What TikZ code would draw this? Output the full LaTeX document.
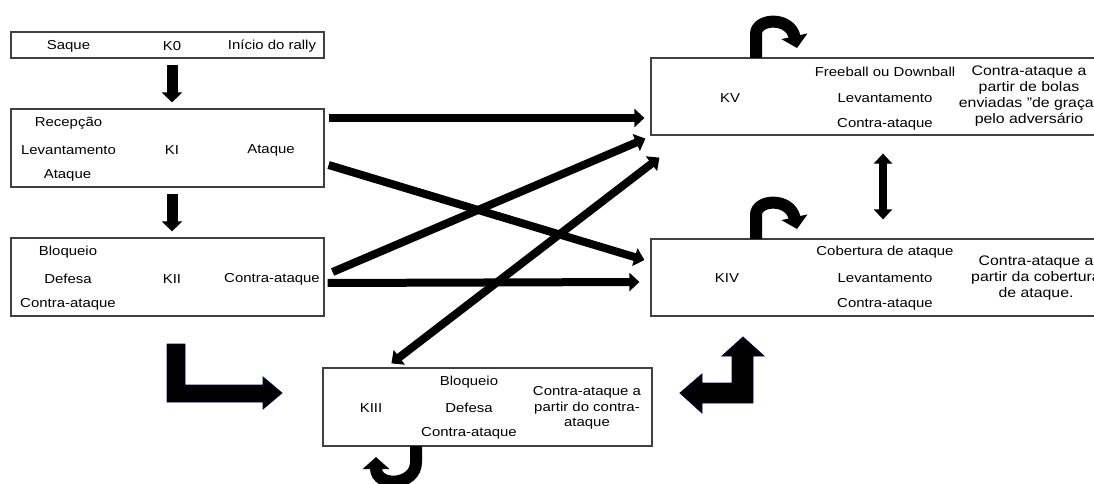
\documentclass[tikz,border=0pt]{standalone}
\usepackage{fontspec}
\setmainfont{Liberation Sans}[FakeStretch=1.15]
\usetikzlibrary{arrows.meta}

\tikzset{
  phase/.style={draw=black!75, line width=1.2pt, minimum height=78pt, inner sep=0pt},
  txt/.style={font=\fontsize{13}{15.8}\selectfont, inner sep=0pt, align=center},
  note/.style={txt, font=\fontsize{13.8}{15.8}\selectfont},
  conn/.style={line width=8pt, -{Triangle[length=10pt,width=18pt]}},
  both/.style={line width=8pt, {Triangle[length=10pt,width=18pt]}-{Triangle[length=10pt,width=18pt]}},
  down/.style={line width=11pt, -{Triangle[length=10pt,width=20pt]}},
  hook/.style={line width=12pt, -{Triangle[length=12pt,width=26pt]}},
  block/.style={fill=black, draw=blue!30!black, line width=0.8pt, line join=miter}
}

\begin{document}
\begin{tikzpicture}[x=1pt,y=-1pt]
\clip (0,0) rectangle (1094,484);

% phase boxes
\node[phase, minimum width=313pt, minimum height=26pt] (k0) at (167.5,45) {};
\node[phase, minimum width=313pt] (ki) at (167.5,148) {};
\node[phase, minimum width=313pt] (kii) at (167.5,277) {};
\node[phase, minimum width=329pt] (kiii) at (487.5,407) {};
\node[phase, minimum width=454pt, minimum height=77pt] (kv) at (878,96.5) {};
\node[phase, minimum width=454pt, minimum height=77pt] (kiv) at (878,277.5) {};

% K0
\node[txt] (k0a) at (68.5,46) {Saque};
\node[txt] (k0b) at (172,46) {K0};
\node[txt] (k0c) at (272,46) {Início do rally};

% KI
\node[txt] (kia) at (68.5,123) {Recepção};
\node[txt] (kib) at (68.5,150) {Levantamento};
\node[txt] (kic) at (67.5,175) {Ataque};
\node[txt] (kid) at (172,150) {KI};
\node[txt] (kie) at (271,150) {Ataque};

% KII
\node[txt] (kiia) at (68,252) {Bloqueio};
\node[txt] (kiib) at (68,279) {Defesa};
\node[txt] (kiic) at (68,304) {Contra-ataque};
\node[txt] (kiid) at (172,279) {KII};
\node[txt] (kiie) at (272,279) {Contra-ataque};

% KIII
\node[txt] (kiiia) at (371,408) {KIII};
\node[txt] (kiiib) at (469,382) {Bloqueio};
\node[txt] (kiiic) at (469,408) {Defesa};
\node[txt] (kiiid) at (469,433) {Contra-ataque};
\node[txt] (kiiie) at (587,408) {Contra-ataque a\\partir do contra-\\ataque};

% KIV
\node[txt] (kiva) at (727,278) {KIV};
\node[txt] (kivb) at (885,252) {Cobertura de ataque};
\node[txt] (kivc) at (885,278) {Levantamento};
\node[txt] (kivd) at (885,304) {Contra-ataque};
\node[note] (kive) at (1036,278) {Contra-ataque a\\partir da cobertura\\de ataque.};

% KV
\node[txt] (kva) at (730,98) {KV};
\node[txt] (kvb) at (885,72) {Freeball ou Downball};
\node[txt] (kvc) at (885,98) {Levantamento};
\node[txt] (kvd) at (885,124) {Contra-ataque};
\node[note] (kve) at (1029,96) {Contra-ataque a\\partir de bolas\\enviadas "de graça"\\pelo adversário};

% straight connectors
\draw[down] ([xshift=4.5pt,yshift=-6pt]k0.south) -- ([xshift=4.5pt,yshift=6pt]ki.north);
\draw[down] ([xshift=4.5pt,yshift=-6pt]ki.south) -- ([xshift=4.5pt,yshift=6pt]kii.north);
\draw[conn] ([xshift=4pt,yshift=30pt]ki.east) -- ([xshift=-6pt,yshift=-21.5pt]kv.west);
\draw[conn] ([xshift=4pt,yshift=-17pt]ki.east) -- ([xshift=-6pt,yshift=17.5pt]kiv.west);
\draw[conn] ([xshift=8pt,yshift=5pt]kii.east) -- ([xshift=-5pt,yshift=-3pt]kv.south west);
\draw[conn] ([xshift=3pt,yshift=-6pt]kii.east) -- ([xshift=-11pt,yshift=-4.5pt]kiv.west);
\draw[both] ([xshift=69pt,yshift=4pt]kiii.north west) -- ([xshift=9pt,yshift=-22pt]kv.south west);
\draw[both] ([xshift=5pt,yshift=-18pt]kv.south) -- ([xshift=5pt,yshift=19pt]kiv.north);

% loops
\draw[hook] (756,58) -- (756,34) .. controls (756,18) and (790,16) .. (797,48);
\draw[hook] (756,239) -- (756,215) .. controls (756,199) and (790,197) .. (797,229);
\draw[hook] (416,446) -- (416,462) .. controls (416,486) and (376,488) .. (376,457);

% block arrows
\draw[block] (167,344) -- (185,344) -- (185,385) -- (263,385) -- (263,377) -- (282,393)
  -- (263,409) -- (263,402) -- (167,402) -- cycle;
\draw[block] (680,393) -- (702,374) -- (702,383) -- (732,383) -- (732,356) -- (722,356)
  -- (743,337) -- (764,356) -- (753,356) -- (753,403) -- (702,403) -- (702,413) -- cycle;
\end{tikzpicture}
\end{document}
